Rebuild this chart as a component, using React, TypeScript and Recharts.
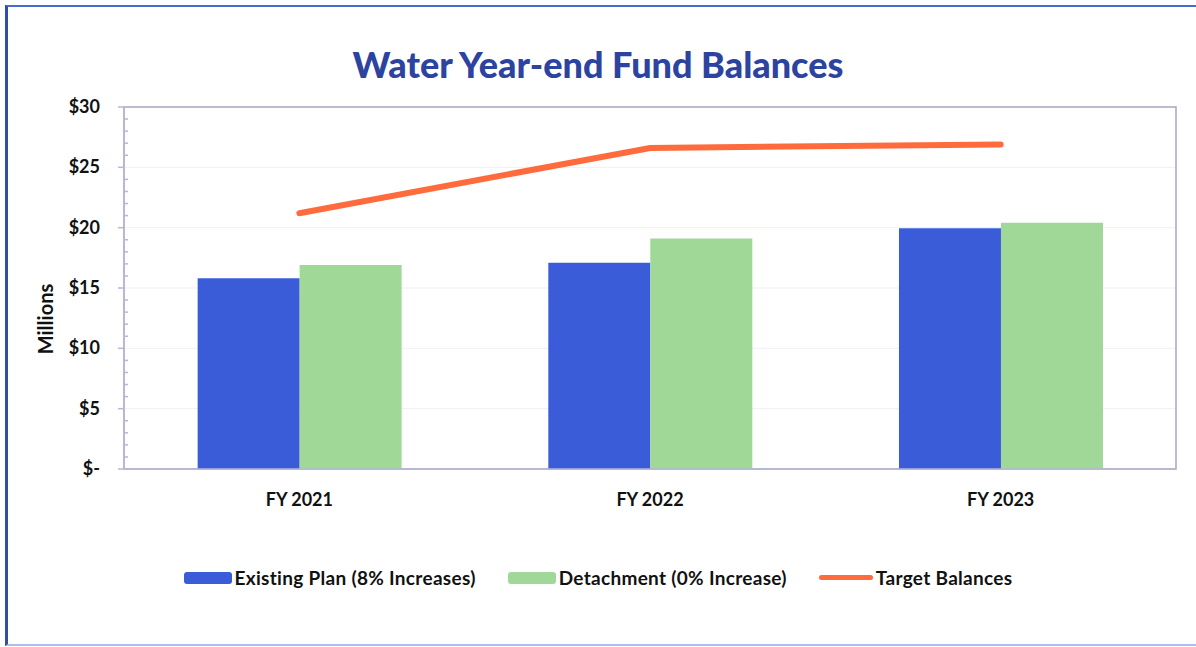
import { BarChart, Bar, Line, XAxis, YAxis, CartesianGrid, Legend, ReferenceArea, Label } from 'recharts';

const years = ['FY 2021', 'FY 2022', 'FY 2023'];
const existingPlan = [15.8, 17.1, 19.95];
const detachment = [16.9, 19.1, 20.4];
const targetBalances = [21.2, 26.6, 26.9];
const yTicks = Array.from({ length: 31 }, (_, i) => i);

const data = years.map((year, i) => ({
  year,
  existing: existingPlan[i],
  detachment: detachment[i],
  target: targetBalances[i],
}));

const font = 'Lato, "Open Sans", sans-serif';
const axisColor = '#b9b6d8';

function YTick({ x, y, payload }: any) {
  const v = payload.value;
  const major = v % 5 === 0;
  if (!major) {
    return <line x1={x + 24} x2={x + 28} y1={y} y2={y} stroke={axisColor} strokeWidth={1.5} />;
  }
  return (
    <g>
      <line x1={x + 18} x2={x + 24} y1={y} y2={y} stroke={axisColor} strokeWidth={1.5} />
      <text x={x} y={y} dy={6} textAnchor="end" fontFamily={font} fontWeight={700} fontSize={18} fill="#111">
        {v === 0 ? '$-' : `$${v}`}
      </text>
    </g>
  );
}

function LegendContent() {
  const items = [
    { label: 'Existing Plan (8% Increases)', color: '#3a5cd8', type: 'bar' },
    { label: 'Detachment (0% Increase)', color: '#a0d898', type: 'bar' },
    { label: 'Target Balances', color: '#ff6b3d', type: 'line' },
  ];
  return (
    <div style={{ display: 'flex', justifyContent: 'center', gap: 32, fontFamily: font, fontWeight: 700, fontSize: 19, color: '#111' }}>
      {items.map((it) => (
        <div key={it.label} style={{ display: 'flex', alignItems: 'center' }}>
          <span
            style={{
              display: 'inline-block',
              width: it.type === 'bar' ? 48 : 54,
              height: it.type === 'bar' ? 12 : 5,
              borderRadius: 3,
              background: it.color,
              marginRight: 3,
            }}
          />
          <span style={{ fontWeight: 700, letterSpacing: 0.3 }}>{it.label}</span>
        </div>
      ))}
    </div>
  );
}

export default function App() {
  return (
    <div style={{ position: 'fixed', left: 0, top: 0, width: 1196, height: 647, background: '#fff', overflow: 'hidden' }}>
      <div
        style={{
          position: 'absolute',
          left: 5,
          top: 5,
          width: 1200,
          height: 637,
          borderLeft: '3px solid #2f4ea8',
          borderTop: '2px solid #4a6ad0',
          borderBottom: '2px solid #a9c0ea',
        }}
      />
      <div
        style={{
          position: 'absolute',
          left: 0,
          top: 42,
          width: 1196,
          textAlign: 'center',
          fontFamily: font,
          fontWeight: 900,
          fontSize: 36,
          color: '#2c43a0',
        }}
      >
        Water Year-end Fund Balances
      </div>
      <div style={{ position: 'absolute', left: 0, top: 0 }}>
        <BarChart
          width={1196}
          height={647}
          data={data}
          margin={{ top: 107, right: 20, bottom: 125, left: 20 }}
          barCategoryGap="21%"
          barGap={0}
        >
          <CartesianGrid horizontal vertical={false} stroke="#efeff6" horizontalValues={[5, 10, 15, 20, 25]} />
          <ReferenceArea y1={0} y2={30} fill="none" stroke="#a6a6c0" strokeWidth={1.5} />
          <XAxis
            dataKey="year"
            height={30}
            stroke={axisColor}
            strokeWidth={1.5}
            tickLine={false}
            tickMargin={18}
            tick={{ fontFamily: font, fontWeight: 700, fontSize: 18, fill: '#111' }}
          />
          <YAxis
            width={104}
            domain={[0, 30]}
            ticks={yTicks}
            interval={0}
            stroke={axisColor}
            strokeWidth={1.5}
            tickLine={false}
            tickSize={0}
            tickMargin={24}
            tick={<YTick />}
          >
            <Label
              value="Millions"
              angle={-90}
              position="insideLeft"
              offset={26}
              dy={31}
              fontWeight={700}
              fontSize={20}
              fontFamily={font}
              fill="#111"
              style={{ fontWeight: 700, textAnchor: 'middle' }}
            />
          </YAxis>
          <Legend
            verticalAlign="bottom"
            content={<LegendContent />}
            wrapperStyle={{ bottom: 58, left: 0, width: 1196 }}
          />
          <Bar dataKey="existing" name="Existing Plan (8% Increases)" fill="#3a5cd8" isAnimationActive={false} />
          <Bar dataKey="detachment" name="Detachment (0% Increase)" fill="#a0d898" isAnimationActive={false} />
          <Line
            dataKey="target"
            name="Target Balances"
            type="linear"
            stroke="#ff6b3d"
            strokeWidth={6}
            strokeLinecap="round"
            dot={false}
            isAnimationActive={false}
          />
        </BarChart>
      </div>
    </div>
  );
}
